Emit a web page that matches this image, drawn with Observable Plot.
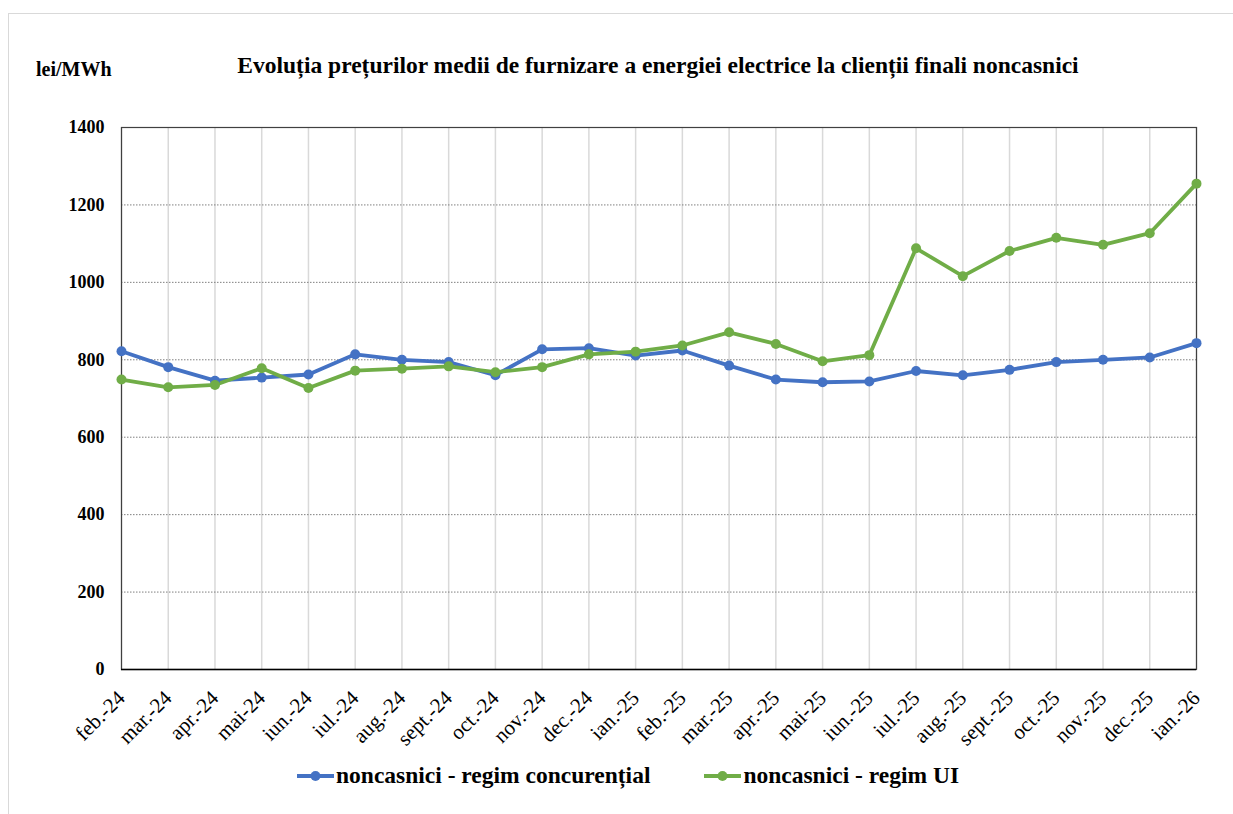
<!DOCTYPE html>
<html>
<head>
<meta charset="utf-8">
<script src="https://cdn.jsdelivr.net/npm/d3@7"></script>
<script src="https://cdn.jsdelivr.net/npm/@observablehq/plot@0.6"></script>
<style>
  html, body { margin: 0; padding: 0; background: #fff; }
  #wrap { position: relative; width: 1233px; height: 814px; overflow: hidden; font-family: "Liberation Serif", "Times New Roman", serif; }
  #frame { position: absolute; left: 8px; top: 13px; width: 1240px; height: 820px; border-left: 1.5px solid #d9d9d9; border-top: 1.5px solid #d9d9d9; }
  #unit { position: absolute; left: 36px; top: 58px; font-weight: bold; font-size: 20px; }
  #title { position: absolute; left: 0; width: 1316px; top: 52px; text-align: center; font-weight: bold; font-size: 23.5px; }
  #legend { position: absolute; top: 762px; left: 297px; font-weight: bold; font-size: 23.5px; display: flex; align-items: center; }
  .item { display: flex; align-items: center; margin-right: 54px; }
  .item svg { margin-right: 2px; }
  #chart { position: absolute; left: 0; top: 0; }
</style>
</head>
<body>
<div id="wrap">
  <div id="frame"></div>
  <div id="chart"></div>
  <div id="unit">lei/MWh</div>
  <div id="title">Evoluția prețurilor medii de furnizare a energiei electrice la clienții finali noncasnici</div>
  <div id="legend"></div>
</div>
<script>
const months = ["feb.-24","mar.-24","apr.-24","mai-24","iun.-24","iul.-24","aug.-24","sept.-24","oct.-24","nov.-24","dec.-24","ian.-25","feb.-25","mar.-25","apr.-25","mai-25","iun.-25","iul.-25","aug.-25","sept.-25","oct.-25","nov.-25","dec.-25","ian.-26"];
const concurential = [822,781,746,754,762,814,800,794,760,827,830,811,824,785,749,742,744,771,760,774,794,800,806,843];
const regimUI = [749,729,735,778,727,772,777,783,768,781,814,821,837,871,841,796,812,1088,1016,1081,1115,1097,1127,1255];
const seriesNames = ["noncasnici - regim concurențial", "noncasnici - regim UI"];
const seriesColors = ["#4472C4", "#70AD47"];
const yTicks = [0,200,400,600,800,1000,1200,1400];

const data = [];
months.forEach((m, i) => {
  data.push({month: m, value: concurential[i], series: seriesNames[0]});
  data.push({month: m, value: regimUI[i], series: seriesNames[1]});
});

const chart = Plot.plot({
  width: 1233,
  height: 814,
  marginTop: 127,
  marginBottom: 145,
  marginLeft: 121,
  marginRight: 37,
  style: {fontFamily: "Liberation Serif, serif", fontSize: "16px", color: "#000", background: "transparent"},
  x: {type: "point", domain: months, padding: 0, round: false},
  y: {domain: [0, 1400]},
  color: {domain: seriesNames, range: seriesColors},
  marks: [
    Plot.gridX(months, {stroke: "#d9d9d9", strokeOpacity: 1, strokeWidth: 1.5}),
    Plot.gridY(yTicks.filter(d => d > 0 && d < 1400), {stroke: "#7f7f7f", strokeOpacity: 1, strokeDasharray: "1.5,1.5", strokeWidth: 1}),
    Plot.frame({stroke: "#404040", strokeWidth: 1.2}),
    Plot.ruleY([0], {stroke: "#000", strokeWidth: 1.5}),
    Plot.axisY({ticks: yTicks, tickSize: 0, tickPadding: 17, tickFormat: d => String(d), fontSize: 18, fontWeight: "bold", label: null}),
    Plot.axisX({tickSize: 0, tickRotate: -45, tickPadding: 25, fontSize: 21, label: null}),
    Plot.line(data, {x: "month", y: "value", z: "series", stroke: "series", strokeWidth: 3.8, strokeLinejoin: "round"}),
    Plot.dot(data, {x: "month", y: "value", fill: "series", r: 5, stroke: null})
  ]
});
document.getElementById("chart").appendChild(chart);

const legend = document.getElementById("legend");
seriesNames.forEach((name, i) => {
  const item = document.createElement("div");
  item.className = "item";
  item.innerHTML = `<svg width="37" height="14"><line x1="0" y1="7" x2="37" y2="7" stroke="${seriesColors[i]}" stroke-width="4"/><circle cx="18.5" cy="7" r="5" fill="${seriesColors[i]}"/></svg><span>${name}</span>`;
  legend.appendChild(item);
});
</script>
</body>
</html>
